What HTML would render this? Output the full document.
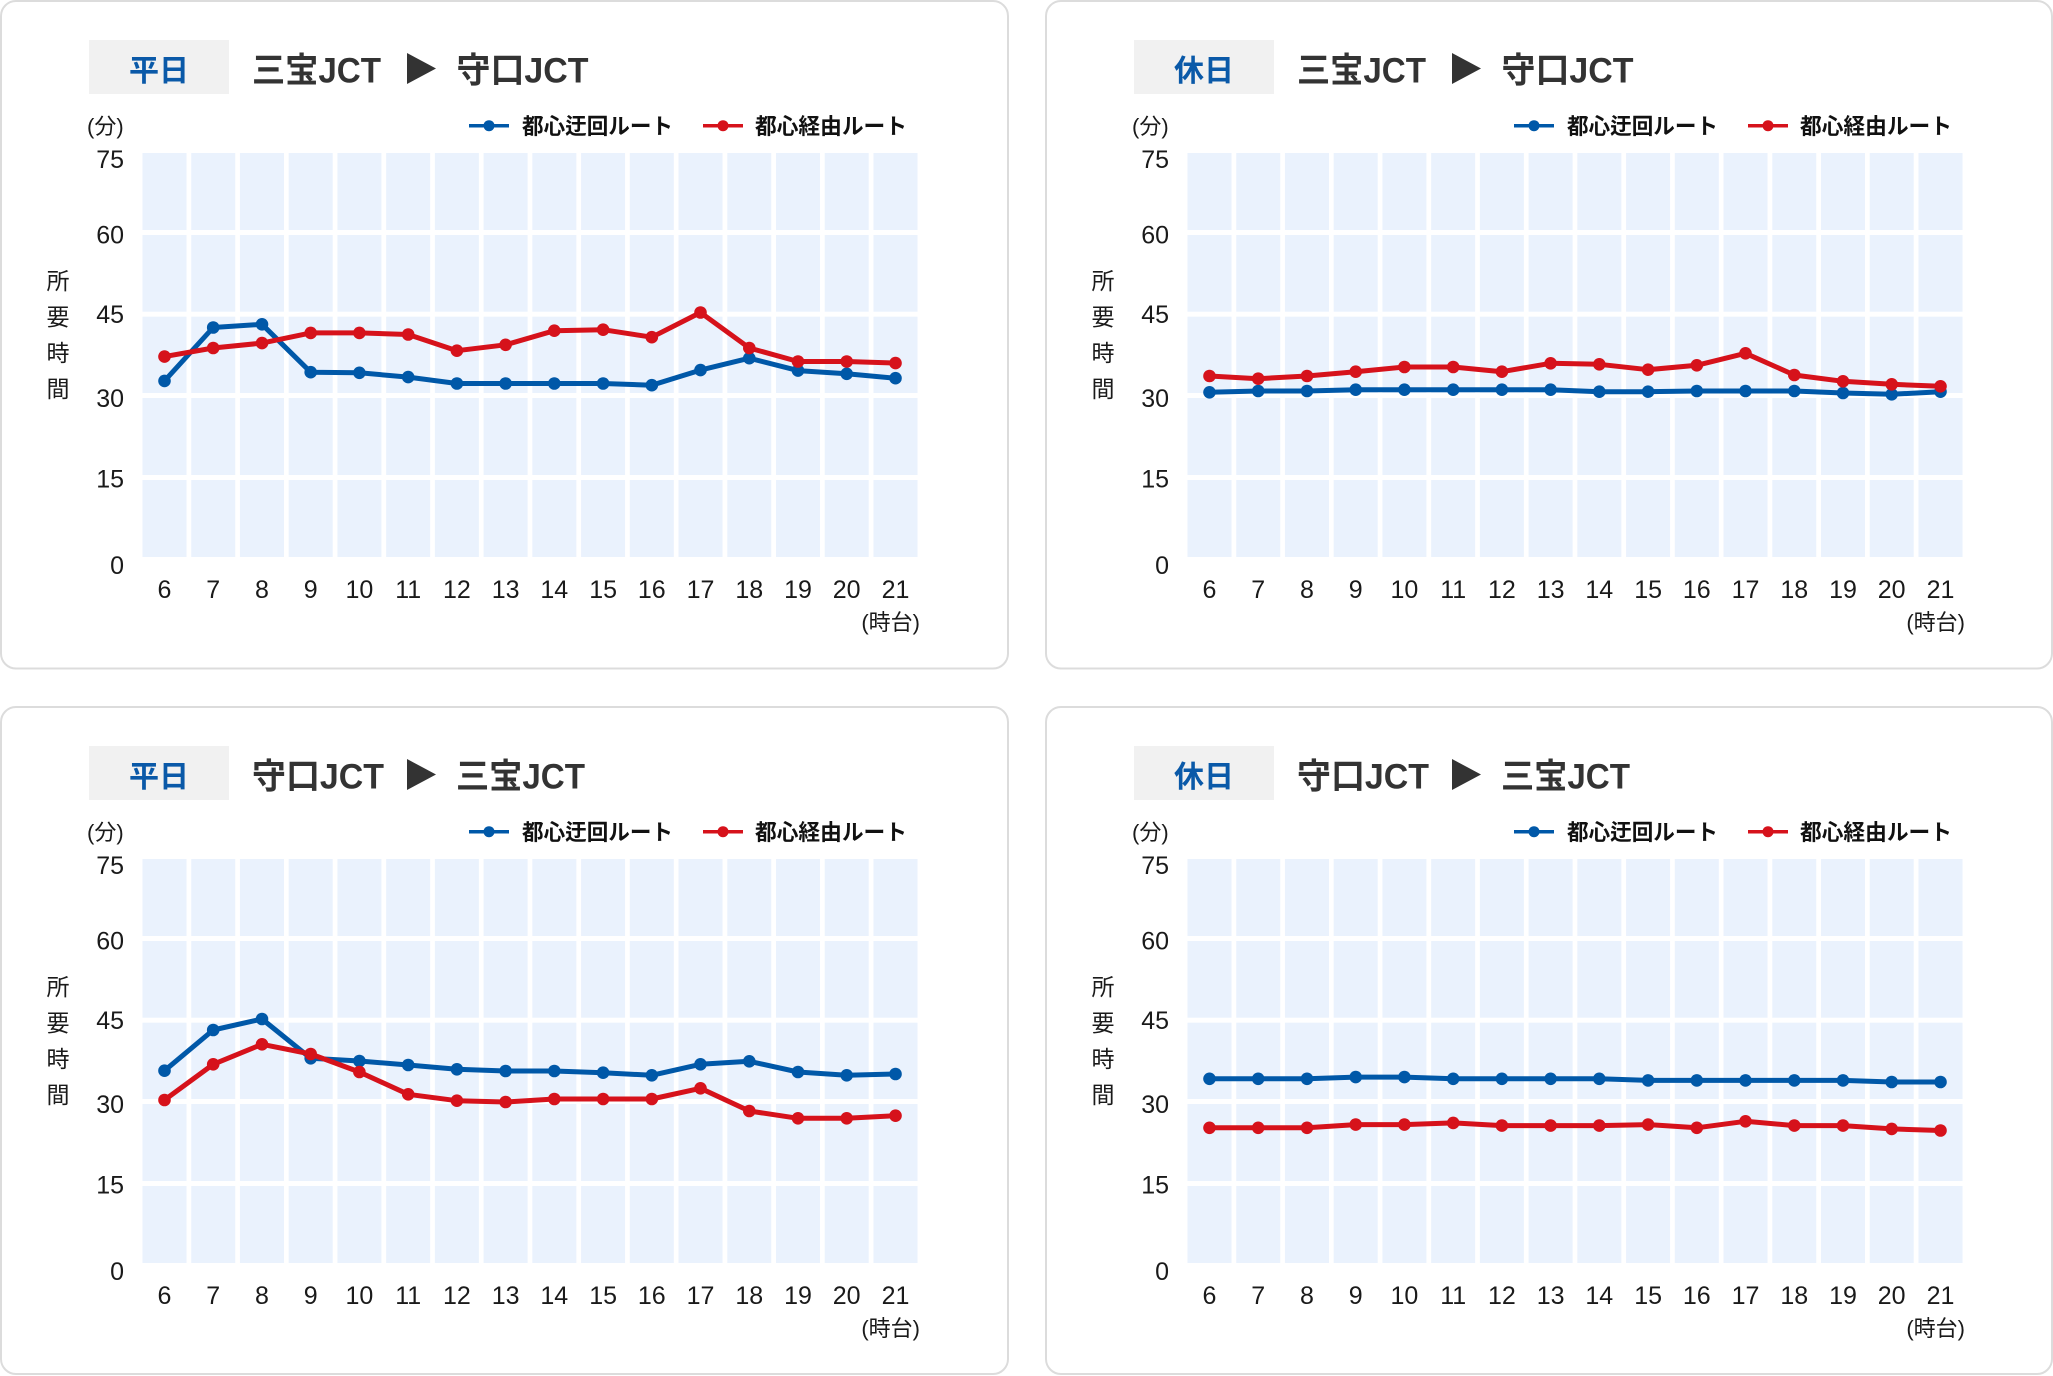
<!DOCTYPE html>
<html><head><meta charset="utf-8">
<style>
html,body{margin:0;padding:0;background:#fff;}
svg{display:block;}
text{font-family:"Liberation Sans","Noto Sans CJK JP",sans-serif;}
.yl{font-size:25px;fill:#1a1a1a;text-anchor:end;}
.xl{font-size:25px;fill:#1a1a1a;text-anchor:middle;}
.vl{font-size:23px;fill:#1a1a1a;text-anchor:middle;}
.un{font-size:22px;fill:#1a1a1a;}
.lg{font-size:22px;font-weight:bold;fill:#111;}
.tt{font-size:35px;font-weight:bold;fill:#333;}
.bd{font-size:30px;font-weight:bold;fill:#0a59a8;text-anchor:middle;}
.lb{fill:none;stroke:#0058a8;stroke-width:5;stroke-linejoin:round;marker-start:url(#mB);marker-mid:url(#mB);marker-end:url(#mB);}
.lr{fill:none;stroke:#d6121b;stroke-width:5;stroke-linejoin:round;marker-start:url(#mR);marker-mid:url(#mR);marker-end:url(#mR);}
</style></head>
<body>
<svg width="2053" height="1376" viewBox="0 0 2053 1376" xmlns="http://www.w3.org/2000/svg">
<defs>
<marker id="mB" viewBox="-7 -7 14 14" markerWidth="14" markerHeight="14" markerUnits="userSpaceOnUse" refX="0" refY="0"><circle r="6.3" fill="#0058a8"/></marker>
<marker id="mR" viewBox="-7 -7 14 14" markerWidth="14" markerHeight="14" markerUnits="userSpaceOnUse" refX="0" refY="0"><circle r="6.3" fill="#d6121b"/></marker>
<g id="frame">
<rect x="89" y="40" width="140" height="54" fill="#f1f1f1"/>
<polygon points="407,53 436,68.5 407,84" fill="#333"/>
<line x1="469" y1="125.7" x2="509" y2="125.7" stroke="#0058a8" stroke-width="3.5"/>
<circle cx="489" cy="125.7" r="5.5" fill="#0058a8"/>
<line x1="703" y1="125.7" x2="743" y2="125.7" stroke="#d6121b" stroke-width="3.5"/>
<circle cx="723" cy="125.7" r="5.5" fill="#d6121b"/>
<text class="lg" x="522" y="134" textLength="151" lengthAdjust="spacingAndGlyphs">都心迂回ルート</text>
<text class="lg" x="755" y="134" textLength="152" lengthAdjust="spacingAndGlyphs">都心経由ルート</text>
<text class="un" x="87" y="134">(分)</text>
<text class="yl" x="124" y="168">75</text>
<text class="yl" x="124" y="243.5">60</text>
<text class="yl" x="124" y="323">45</text>
<text class="yl" x="124" y="407">30</text>
<text class="yl" x="124" y="487.5">15</text>
<text class="yl" x="124" y="574">0</text>
<text class="vl" x="58" y="289">所</text>
<text class="vl" x="58" y="325">要</text>
<text class="vl" x="58" y="361">時</text>
<text class="vl" x="58" y="397">間</text>
<rect x="142.5" y="153" width="775" height="404" fill="#eaf2fd"/>
<g fill="#fff">
<rect x="186.5" y="150" width="4.73" height="410"/>
<rect x="235.23" y="150" width="4.73" height="410"/>
<rect x="283.96" y="150" width="4.73" height="410"/>
<rect x="332.69" y="150" width="4.73" height="410"/>
<rect x="381.42" y="150" width="4.73" height="410"/>
<rect x="430.15" y="150" width="4.73" height="410"/>
<rect x="478.88" y="150" width="4.73" height="410"/>
<rect x="527.61" y="150" width="4.73" height="410"/>
<rect x="576.34" y="150" width="4.73" height="410"/>
<rect x="625.07" y="150" width="4.73" height="410"/>
<rect x="673.8" y="150" width="4.73" height="410"/>
<rect x="722.53" y="150" width="4.73" height="410"/>
<rect x="771.26" y="150" width="4.73" height="410"/>
<rect x="819.99" y="150" width="4.73" height="410"/>
<rect x="868.72" y="150" width="4.73" height="410"/>
<rect x="140" y="230" width="780" height="5"/>
<rect x="140" y="311.7" width="780" height="5"/>
<rect x="140" y="393" width="780" height="5"/>
<rect x="140" y="475" width="780" height="5"/>
</g>
<text class="xl" x="164.5" y="598">6</text>
<text class="xl" x="213.2" y="598">7</text>
<text class="xl" x="262" y="598">8</text>
<text class="xl" x="310.7" y="598">9</text>
<text class="xl" x="359.4" y="598">10</text>
<text class="xl" x="408.2" y="598">11</text>
<text class="xl" x="456.9" y="598">12</text>
<text class="xl" x="505.6" y="598">13</text>
<text class="xl" x="554.3" y="598">14</text>
<text class="xl" x="603.1" y="598">15</text>
<text class="xl" x="651.8" y="598">16</text>
<text class="xl" x="700.5" y="598">17</text>
<text class="xl" x="749.3" y="598">18</text>
<text class="xl" x="798" y="598">19</text>
<text class="xl" x="846.7" y="598">20</text>
<text class="xl" x="895.5" y="598">21</text>
<text class="un" x="920" y="630" text-anchor="end">(時台)</text>
</g>
</defs>

<!-- Panel 1 -->
<g>
<rect x="1" y="1" width="1007" height="667.5" rx="15" fill="#fff" stroke="#dcdcdc" stroke-width="2"/>
<use href="#frame"/>
<text class="bd" x="159" y="81">平日</text>
<text class="tt" x="252" y="82.5" textLength="129" lengthAdjust="spacingAndGlyphs">三宝JCT</text>
<text class="tt" x="456.5" y="82.5" textLength="132" lengthAdjust="spacingAndGlyphs">守口JCT</text>
<polyline class="lb" points="164.5,380.9 213.2,327.5 262,324.3 310.7,372.2 359.4,372.8 408.2,377.1 456.9,383.5 505.6,383.5 554.3,383.5 603.1,383.5 651.8,385.2 700.5,370.1 749.3,358.2 798,370.6 846.7,373.8 895.5,378.2"/>
<polyline class="lr" points="164.5,356.6 213.2,348 262,343.1 310.7,332.9 359.4,332.9 408.2,334.5 456.9,350.7 505.6,344.8 554.3,330.7 603.1,329.7 651.8,337.2 700.5,312.5 749.3,348 798,361.5 846.7,361.5 895.5,363.1"/>
</g>

<!-- Panel 2 -->
<g transform="translate(1045,0)">
<rect x="1" y="1" width="1006" height="667.5" rx="15" fill="#fff" stroke="#dcdcdc" stroke-width="2"/>
<use href="#frame"/>
<text class="bd" x="159" y="81">休日</text>
<text class="tt" x="252" y="82.5" textLength="129" lengthAdjust="spacingAndGlyphs">三宝JCT</text>
<text class="tt" x="456.5" y="82.5" textLength="132" lengthAdjust="spacingAndGlyphs">守口JCT</text>
<polyline class="lb" points="164.5,392.3 213.2,391 262,391 310.7,389.7 359.4,389.7 408.2,389.7 456.9,389.7 505.6,389.7 554.3,391.7 603.1,391.7 651.8,391 700.5,391 749.3,391 798,393 846.7,394.3 895.5,391.7"/>
<polyline class="lr" points="164.5,376 213.2,378.7 262,376 310.7,371.7 359.4,367 408.2,367 456.9,371.7 505.6,363.3 554.3,364.3 603.1,369.7 651.8,365.3 700.5,353.3 749.3,375 798,381.3 846.7,384.3 895.5,386.3"/>
</g>

<!-- Panel 3 -->
<g transform="translate(0,706)">
<rect x="1" y="1" width="1007" height="667" rx="15" fill="#fff" stroke="#dcdcdc" stroke-width="2"/>
<use href="#frame"/>
<text class="bd" x="159" y="81">平日</text>
<text class="tt" x="252" y="82.5" textLength="132" lengthAdjust="spacingAndGlyphs">守口JCT</text>
<text class="tt" x="456" y="82.5" textLength="129" lengthAdjust="spacingAndGlyphs">三宝JCT</text>
<polyline class="lb" points="164.5,364.7 213.2,324 262,313 310.7,352.3 359.4,355 408.2,359 456.9,363.3 505.6,365 554.3,365 603.1,366.7 651.8,369.3 700.5,358.3 749.3,355.3 798,366 846.7,369.3 895.5,368"/>
<polyline class="lr" points="164.5,394 213.2,358.3 262,338.3 310.7,348 359.4,366 408.2,388.3 456.9,394.7 505.6,396 554.3,393 603.1,393 651.8,393 700.5,382.3 749.3,405 798,412.3 846.7,412.3 895.5,409.7"/>
</g>

<!-- Panel 4 -->
<g transform="translate(1045,706)">
<rect x="1" y="1" width="1006" height="667" rx="15" fill="#fff" stroke="#dcdcdc" stroke-width="2"/>
<use href="#frame"/>
<text class="bd" x="159" y="81">休日</text>
<text class="tt" x="252" y="82.5" textLength="132" lengthAdjust="spacingAndGlyphs">守口JCT</text>
<text class="tt" x="456" y="82.5" textLength="129" lengthAdjust="spacingAndGlyphs">三宝JCT</text>
<polyline class="lb" points="164.5,372.8 213.2,372.8 262,372.8 310.7,371.1 359.4,371.1 408.2,372.8 456.9,372.8 505.6,372.8 554.3,372.8 603.1,374.4 651.8,374.4 700.5,374.4 749.3,374.4 798,374.4 846.7,376 895.5,376"/>
<polyline class="lr" points="164.5,421.8 213.2,421.8 262,421.8 310.7,418.6 359.4,418.6 408.2,416.9 456.9,419.6 505.6,419.6 554.3,419.6 603.1,418.6 651.8,421.8 700.5,415.3 749.3,419.6 798,419.6 846.7,422.9 895.5,424.5"/>
</g>
</svg>
</body></html>
